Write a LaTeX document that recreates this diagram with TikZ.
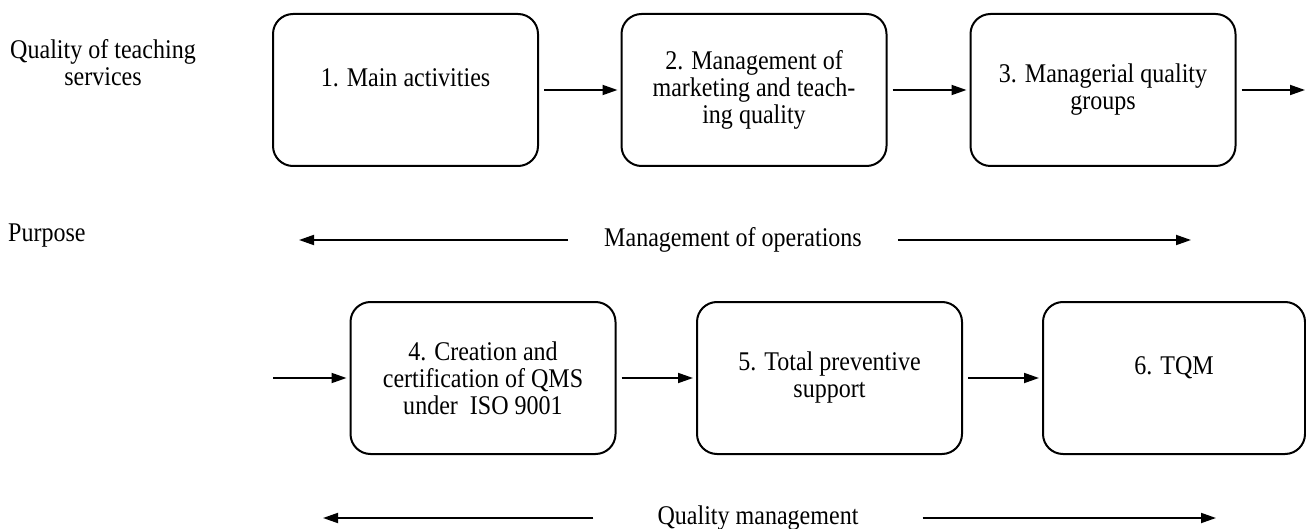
\documentclass[tikz,border=0pt]{standalone}
\usepackage{fontspec}
\setmainfont{Liberation Serif}[FakeStretch=0.89]
\usetikzlibrary{arrows.meta}
\begin{document}
\begin{tikzpicture}[x=1pt,y=-1pt,
        every node/.style={font=\fontsize{27}{27}\selectfont},
        stagebox/.style={draw, line width=2pt, rounded corners=20pt, minimum width=265pt, minimum height=152pt, align=center},
        flow/.style={line width=1.8pt, -{Triangle[length=15pt,width=10pt]}}]
            \useasboundingbox (0,0) rectangle (1306,529);
            \node[align=center] (teaching) at (103,63) {Quality of teaching\\services};
            \node[anchor=base west, inner sep=0pt] (purpose) at (8,242) {Purpose};
            \node[stagebox, text depth=24pt] (s1) at (405.5,90) {1. Main activities};
            \node[stagebox] (s2) at (754,90) {2. Management of\\marketing and teach-\\ing quality};
            \node[stagebox] (s3) at (1103,90) {3. Managerial quality\\groups};
            \node[stagebox] (s4) at (483,378) {4. Creation and\\certification of QMS\\under\ \ ISO 9001};
            \node[stagebox] (s5) at (829.5,378) {5. Total preventive\\support};
            \node[stagebox, minimum width=262pt, text depth=24pt] (s6) at (1174,378) {6. TQM};
            \coordinate (outR) at (1305,90);
            \coordinate (inL) at (273,378);
            \draw[flow, shorten <=5pt, shorten >=3pt] (s1) -- (s2);
            \draw[flow, shorten <=5pt, shorten >=3pt] (s2) -- (s3);
            \draw[flow, shorten <=5pt] (s3) -- (outR);
            \draw[flow, shorten >=3pt] (inL) -- (s4);
            \draw[flow, shorten <=5pt, shorten >=3pt] (s4) -- (s5);
            \draw[flow, shorten <=5pt, shorten >=3pt] (s5) -- (s6);
            \node[inner xsep=36pt] (ops) at (733,240) {Management of operations};
            \coordinate (opsL) at (299,240);
            \coordinate (opsR) at (1191,240);
            \draw[flow] (ops.west) -- (opsL);
            \draw[flow] (ops.east) -- (opsR);
            \node[inner xsep=64pt] (qm) at (758,518) {Quality management};
            \coordinate (qmL) at (323,518);
            \coordinate (qmR) at (1216,518);
            \draw[flow] (qm.west) -- (qmL);
            \draw[flow] (qm.east) -- (qmR);
        \end{tikzpicture}
\end{document}
